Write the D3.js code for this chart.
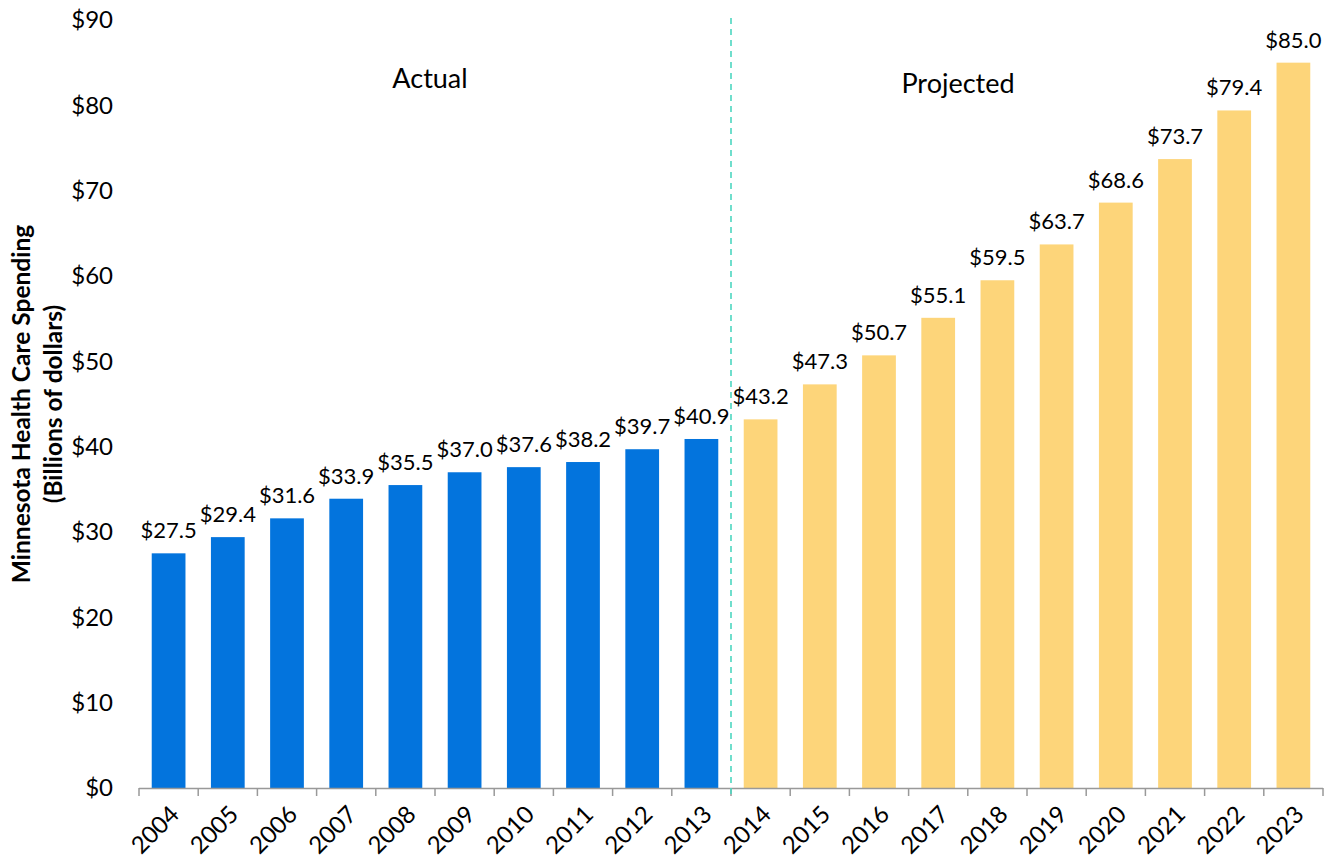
<!DOCTYPE html>
<html><head><meta charset="utf-8">
<script src="https://cdn.jsdelivr.net/npm/d3@7"></script>
<style>body{margin:0;background:#fff;} text{font-family:Lato,"Open Sans",sans-serif;}</style>
</head><body>
<svg id="c" width="1335" height="862"></svg>
<script>
const years = ["2004","2005","2006","2007","2008","2009","2010","2011","2012","2013","2014","2015","2016","2017","2018","2019","2020","2021","2022","2023"];
const spending = [27.5,29.4,31.6,33.9,35.5,37.0,37.6,38.2,39.7,40.9,43.2,47.3,50.7,55.1,59.5,63.7,68.6,73.7,79.4,85.0];
const status = ["Actual","Actual","Actual","Actual","Actual","Actual","Actual","Actual","Actual","Actual","Projected","Projected","Projected","Projected","Projected","Projected","Projected","Projected","Projected","Projected"];
const yTicks = [0,10,20,30,40,50,60,70,80,90];
const colors = {Actual:"#0374DD", Projected:"#FDD57A"};

const svg = d3.select("#c");
const x = d3.scaleBand().domain(years).range([139,1323]).paddingInner(0.43).paddingOuter(0.215);
const y = d3.scaleLinear().domain([0,90]).range([788,20]);

// y tick labels
svg.append("g").selectAll("text").data(yTicks).join("text")
  .attr("x",113).attr("y",d=>y(d)).attr("dy","0.35em").attr("text-anchor","end")
  .attr("font-size",24).attr("fill","#000").text(d=>"$"+d);

// bars
svg.append("g").selectAll("rect").data(years).join("rect")
  .attr("x",d=>x(d)).attr("width",x.bandwidth())
  .attr("y",(d,i)=>y(spending[i])).attr("height",(d,i)=>y(0)-y(spending[i]))
  .attr("fill",(d,i)=>colors[status[i]]);

// value labels
svg.append("g").selectAll("text").data(years).join("text")
  .attr("x",d=>x(d)+x.bandwidth()/2).attr("y",(d,i)=>y(spending[i])-15)
  .attr("text-anchor","middle").attr("font-size",22).attr("fill","#000")
  .text((d,i)=>"$"+spending[i].toFixed(1));

// x axis
const ax = svg.append("g");
ax.append("line").attr("x1",139).attr("x2",1323).attr("y1",788.5).attr("y2",788.5).attr("stroke","#999").attr("stroke-width",1.5);
const bounds = years.map(d=>x(d)-x.step()*x.paddingInner()/2).concat([1323]);
ax.selectAll("line.t").data(bounds).join("line").attr("class","t")
  .attr("x1",d=>d).attr("x2",d=>d).attr("y1",788).attr("y2",796).attr("stroke","#999").attr("stroke-width",1.5);
ax.selectAll("text").data(years).join("text")
  .attr("transform",d=>`translate(${x(d)+x.bandwidth()/2+6},${810}) rotate(-45)`)
  .attr("text-anchor","end").attr("dy","0.35em").attr("font-size",24).attr("fill","#000").text(d=>d);

// divider
const divX = (x("2013")+x.bandwidth()+x("2014"))/2;
svg.append("line").attr("x1",divX).attr("x2",divX).attr("y1",18).attr("y2",796)
  .attr("stroke","#4DD6C0").attr("stroke-width",1.6).attr("stroke-dasharray","6,5");

// section labels
svg.append("text").attr("x",430).attr("y",88).attr("text-anchor","middle").attr("font-size",27).text("Actual");
svg.append("text").attr("x",958).attr("y",93).attr("text-anchor","middle").attr("font-size",27).text("Projected");

// y title
const t = svg.append("text").attr("transform","translate(30,404) rotate(-90)").attr("text-anchor","middle")
  .attr("font-size",24.5).attr("font-weight","bold");
t.append("tspan").attr("x",0).attr("dy",0).text("Minnesota Health Care Spending");
t.append("tspan").attr("x",0).attr("dy",32).text("(Billions of dollars)");
</script>
</body></html>
